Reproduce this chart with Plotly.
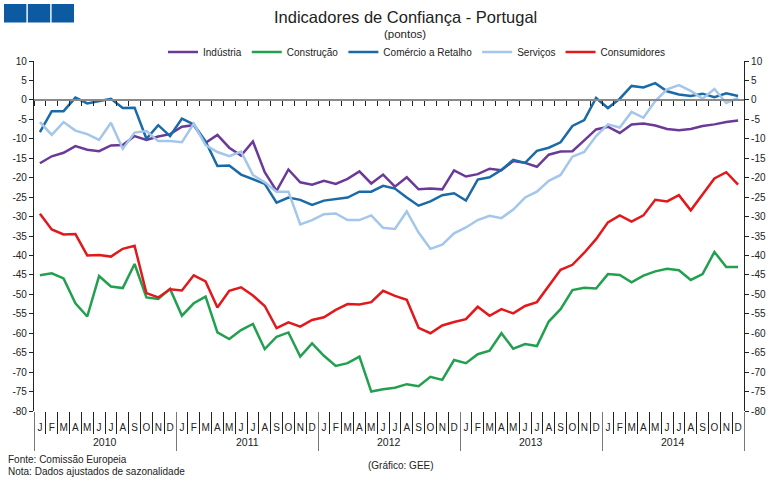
import plotly.graph_objects as go

# ---------------- data ----------------
years = ["2010", "2011", "2012", "2013", "2014"]
month_letters = ["J", "F", "M", "A", "M", "J", "J", "A", "S", "O", "N", "D"]

series_names = ["Indústria", "Construção", "Comércio a Retalho", "Serviços", "Consumidores"]

industria = [-16.3, -14.5, -13.6, -11.9, -12.8, -13.2, -11.7, -11.6, -9.3, -10.3,
             -9.4, -8.8, -6.9, -6.5, -11.0, -9.0, -12.3, -14.3, -10.7, -18.6,
             -23.4, -17.9, -21.2, -21.8, -20.8, -21.6, -20.3, -18.4, -21.5, -19.2,
             -22.3, -19.9, -23.0, -22.8, -23.0, -18.1, -19.7, -19.1, -17.7, -18.1,
             -15.7, -16.2, -17.2, -14.1, -13.3, -13.2, -10.4, -7.6, -6.9, -8.5,
             -6.3, -6.1, -6.6, -7.5, -7.8, -7.5, -6.7, -6.3, -5.7, -5.3]

construcao = [-45.1, -44.6, -45.9, -52.3, -55.7, -45.3, -48.0, -48.4, -42.2, -50.8,
              -51.2, -48.6, -55.5, -52.3, -50.6, -59.8, -61.5, -59.2, -57.6, -64.1,
              -60.9, -59.8, -66.0, -62.6, -65.8, -68.4, -67.7, -66.0, -75.0, -74.4,
              -74.0, -73.1, -73.6, -71.2, -72.0, -66.9, -67.7, -65.4, -64.5, -60.0,
              -64.0, -62.8, -63.3, -57.0, -53.8, -48.9, -48.3, -48.5, -44.8, -45.0,
              -46.9, -45.2, -44.1, -43.4, -43.8, -46.3, -44.8, -39.1, -43.0, -43.0]

comercio = [-8.3, -2.9, -2.9, 0.6, -0.9, -0.3, 0.3, -2.1, -2.0, -10.0,
            -6.5, -9.3, -4.8, -6.3, -10.7, -17.0, -16.9, -19.2, -20.3, -21.6,
            -26.4, -25.1, -25.7, -27.0, -25.9, -25.5, -25.1, -23.6, -23.6, -22.1,
            -22.8, -25.1, -27.2, -26.1, -24.5, -24.0, -25.9, -20.5, -19.9, -18.0,
            -15.4, -16.2, -13.1, -12.3, -10.9, -6.7, -5.2, 0.5, -2.1, 0.3,
            3.6, 3.2, 4.3, 2.2, 1.4, 1.0, 1.6, 0.7, 1.7, 1.0]

servicos = [-5.7, -9.0, -5.7, -7.9, -8.8, -10.3, -5.9, -12.6, -8.4, -8.0,
            -10.6, -10.6, -10.9, -6.1, -11.6, -13.4, -14.5, -13.3, -19.3, -21.2,
            -23.6, -23.6, -32.0, -30.9, -29.4, -29.2, -30.9, -30.9, -29.7, -32.9,
            -33.2, -28.7, -34.1, -38.3, -37.2, -34.3, -32.8, -30.9, -29.8, -30.4,
            -28.2, -25.1, -23.6, -20.8, -19.3, -14.6, -13.4, -9.3, -6.3, -7.1,
            -3.1, -4.6, -0.3, 2.7, 3.8, 2.3, 0.3, 2.8, -0.8, 0.5]

consumidores = [-29.3, -33.3, -34.6, -34.5, -40.0, -39.9, -40.3, -38.3, -37.5, -49.7,
                -50.8, -48.7, -49.0, -45.1, -46.7, -53.4, -49.1, -48.2, -50.3, -53.0,
                -58.7, -57.2, -58.3, -56.6, -55.9, -54.0, -52.5, -52.6, -52.0, -49.1,
                -50.4, -51.4, -58.6, -60.0, -58.0, -57.1, -56.4, -53.2, -55.5, -53.8,
                -54.9, -53.0, -52.0, -47.8, -43.7, -42.4, -39.3, -35.8, -31.5, -29.7,
                -31.3, -29.7, -25.7, -26.1, -24.5, -28.4, -24.2, -20.2, -18.6, -21.8]

y_ticks = list(range(-80, 11, 5))

# ---------------- styles ----------------
colors = ["#6b3a96", "#22a04f", "#1a6aa8", "#a3c6ea", "#e2191c"]
FONT = "Liberation Sans, Arial, sans-serif"

W, H = 783, 481
ML, MR, MT, MB = 34, 39, 61, 70
PW, PH = W - ML - MR, H - MT - MB


def px_x(px):
    return (px - ML) / PW


def px_y(py):
    return (H - MB - py) / PH


n = len(years) * len(month_letters)
x_idx = list(range(n))
month_text = month_letters * len(years)
bounds = [i - 0.5 for i in range(n + 1)]
year_bounds = [i * len(month_letters) - 0.5 for i in range(len(years) + 1)]
year_centers = [i * len(month_letters) + (len(month_letters) - 1) / 2 for i in range(len(years))]
xr = [-0.5, n - 0.5]
yr = [y_ticks[0], y_ticks[-1]]

fig = go.Figure()
all_series = [industria, construcao, comercio, servicos, consumidores]

# invisible helper traces so that the auxiliary axes get drawn
for ax in ["x2", "x3", "x4"]:
    fig.add_trace(go.Scatter(x=[None], y=[None], xaxis=ax, yaxis="y", mode="lines",
                             showlegend=False, hoverinfo="skip"))
fig.add_trace(go.Scatter(x=[None], y=[None], xaxis="x", yaxis="y2", mode="lines",
                         showlegend=False, hoverinfo="skip"))

for name, vals, c in zip(series_names, all_series, colors):
    fig.add_trace(go.Scatter(x=x_idx, y=vals, name=name, mode="lines",
                             line=dict(color=c, width=2.5), hoverinfo="skip"))

tickfont = dict(family=FONT, size=10, color="#222")

fig.update_layout(
    width=W, height=H,
    margin=dict(l=ML, r=MR, t=MT, b=MB, pad=0),
    paper_bgcolor="white", plot_bgcolor="white",
    font=dict(family=FONT, size=10, color="#222"),
    showlegend=True,
    legend=dict(orientation="h", x=px_x(417), xanchor="center", y=px_y(52), yanchor="middle",
                font=dict(family=FONT, size=10, color="#222"), bgcolor="rgba(0,0,0,0)",
                itemwidth=30, tracegroupgap=0),
    # month separators (main axis)
    xaxis=dict(range=xr, tickmode="array", tickvals=bounds, showticklabels=False,
               ticks="outside", ticklen=22, tickcolor="#222", tickwidth=1,
               showgrid=False, zeroline=False, showline=False),
    # month letters
    xaxis2=dict(overlaying="x", range=xr, tickmode="array", tickvals=x_idx, ticktext=month_text,
                ticks="outside", ticklen=7, tickcolor="rgba(0,0,0,0)", tickfont=tickfont,
                showgrid=False, zeroline=False, showline=False, anchor="y", side="bottom"),
    # year separators
    xaxis3=dict(overlaying="x", range=xr, tickmode="array", tickvals=year_bounds, showticklabels=False,
                ticks="outside", ticklen=39, tickcolor="#777", tickwidth=1.3,
                showgrid=False, zeroline=False, showline=False, anchor="y", side="bottom"),
    # axis crossing at zero
    xaxis4=dict(overlaying="x", range=xr, tickmode="array", tickvals=bounds, showticklabels=False,
                ticks="outside", ticklen=5, tickcolor="#222", tickwidth=1,
                showgrid=False, zeroline=False, showline=True, linecolor="#8a8a8a", linewidth=2,
                anchor="free", position=(0 - yr[0]) / (yr[1] - yr[0]), side="bottom"),
    yaxis=dict(range=yr, tickmode="array", tickvals=y_ticks, ticktext=[str(v) for v in y_ticks],
               ticks="outside", ticklen=4, tickcolor="#222", tickfont=tickfont,
               showgrid=False, zeroline=False, showline=True, linecolor="#222", linewidth=1.2),
    yaxis2=dict(overlaying="y", side="right", range=yr, tickmode="array", tickvals=y_ticks,
                ticktext=[str(v) for v in y_ticks], ticks="outside", ticklen=4, tickcolor="#222",
                tickfont=tickfont, showgrid=False, zeroline=False, showline=True,
                linecolor="#222", linewidth=1.2, anchor="x"),
)

annotations = [
    dict(text="Indicadores de Confiança - Portugal", x=px_x(405), y=px_y(17), xref="paper", yref="paper",
         xanchor="center", yanchor="middle", showarrow=False, font=dict(family=FONT, size=16.5, color="#222")),
    dict(text="(pontos)", x=px_x(405), y=px_y(34), xref="paper", yref="paper",
         xanchor="center", yanchor="middle", showarrow=False, font=dict(family=FONT, size=11.5, color="#222")),
    dict(text="Fonte: Comissão Europeia", x=px_x(6), y=px_y(459), xref="paper", yref="paper",
         xanchor="left", yanchor="middle", showarrow=False, font=dict(family=FONT, size=10, color="#222")),
    dict(text="Nota: Dados ajustados de sazonalidade", x=px_x(6), y=px_y(471), xref="paper", yref="paper",
         xanchor="left", yanchor="middle", showarrow=False, font=dict(family=FONT, size=10, color="#222")),
    dict(text="(Gráfico: GEE)", x=px_x(401), y=px_y(465), xref="paper", yref="paper",
         xanchor="center", yanchor="middle", showarrow=False, font=dict(family=FONT, size=10, color="#222")),
]
for yc, ylab in zip(year_centers, years):
    annotations.append(dict(text=ylab, x=yc, y=px_y(442), xref="x", yref="paper",
                            xanchor="center", yanchor="middle", showarrow=False,
                            font=dict(family=FONT, size=10.5, color="#222")))
fig.update_layout(annotations=annotations)

# header squares (decoration)
shapes = []
for k in range(3):
    x0 = 4 + k * 23.8
    shapes.append(dict(type="rect", xref="paper", yref="paper",
                       x0=px_x(x0), x1=px_x(x0 + 22.4), y0=px_y(22.5), y1=px_y(4),
                       fillcolor="#0b5aa2", line=dict(width=0)))
fig.update_layout(shapes=shapes)

fig.write_html("out.html")
